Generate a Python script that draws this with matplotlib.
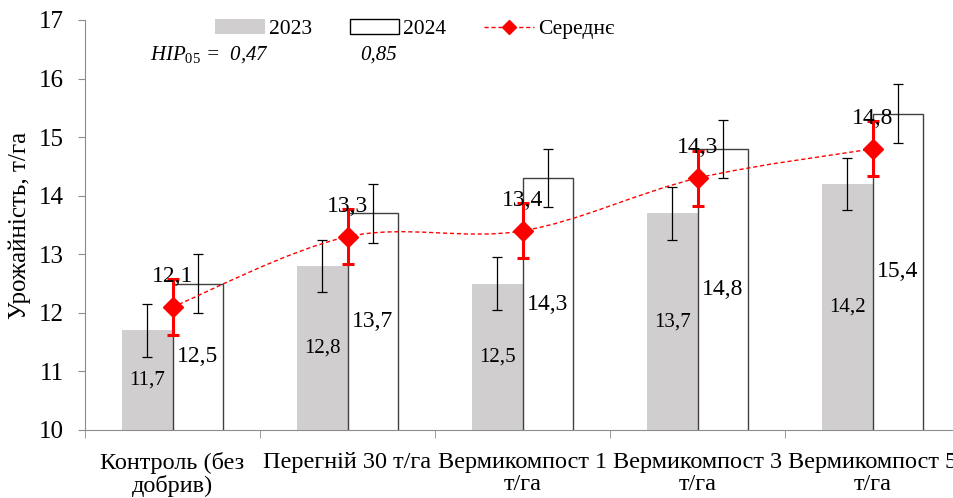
import matplotlib
matplotlib.use('Agg')
import matplotlib.pyplot as plt
import numpy as np
from matplotlib.path import Path
from matplotlib.patches import PathPatch, Patch
from matplotlib.lines import Line2D

plt.rcParams['font.family'] = 'Liberation Serif'
plt.rcParams['mathtext.fontset'] = 'custom'
plt.rcParams['mathtext.rm'] = 'Liberation Serif'
plt.rcParams['mathtext.it'] = 'Liberation Serif:italic'

categories = ['Контроль (без\nдобрив)', 'Перегній 30 т/га', 'Вермикомпост 1\nт/га',
              'Вермикомпост 3\nт/га', 'Вермикомпост 5\nт/га']
y2023 = [11.7, 12.8, 12.5, 13.7, 14.2]
y2024 = [12.5, 13.7, 14.3, 14.8, 15.4]
mean = [12.1, 13.3, 13.4, 14.3, 14.8]
err2023 = 0.45
err2024 = 0.5
err_mean = 0.47
hip = ['0,47', '0,85']

def fmt(v):
    return f'{v:.1f}'.replace('.', ',')

fig = plt.figure(figsize=(9.54, 4.98), dpi=100)
ax = fig.add_axes([85/954, 68/498, 875/954, 410/498])

x = np.arange(len(categories))
w = 0.286
gray = '#D0CECE'
axis_col = '#8C8C8C'

ax.bar(x - w/2, y2023, w, color=gray, edgecolor='none', zorder=2)
ax.bar(x + w/2, y2024, w, color='white', edgecolor='#404040', linewidth=1.0, zorder=2)
ax.errorbar(x - w/2, y2023, yerr=err2023, fmt='none', ecolor='black', elinewidth=0.9,
            capsize=3.6, capthick=0.9, zorder=3)
ax.errorbar(x + w/2, y2024, yerr=err2024, fmt='none', ecolor='black', elinewidth=0.9,
            capsize=3.6, capthick=0.9, zorder=3)

# smoothed mean line (bezier through the points)
pts = np.column_stack([x, mean]).astype(float)
ext = np.vstack([pts[0], pts, pts[-1]])
verts = [tuple(pts[0])]
codes = [Path.MOVETO]
for i in range(len(pts) - 1):
    p0, p1, p2, p3 = ext[i], ext[i+1], ext[i+2], ext[i+3]
    c1 = p1 + (p2 - p0) / 6
    c2 = p2 - (p3 - p1) / 6
    verts += [tuple(c1), tuple(c2), tuple(p2)]
    codes += [Path.CURVE4] * 3
ax.add_patch(PathPatch(Path(verts, codes), facecolor='none', edgecolor='red',
                       linestyle=(0, (3, 2)), linewidth=1.0, zorder=4))
ax.errorbar(x, mean, yerr=err_mean, fmt='D', color='red', markersize=10, elinewidth=2.2,
            capsize=4, capthick=2.2, zorder=5)

for i in range(len(x)):
    ax.text(x[i] - w/2, (10 + y2023[i]) / 2, fmt(y2023[i]), ha='center', va='center', fontsize=15, zorder=6)
    ax.text(x[i] + w/2, (10 + y2024[i]) / 2, fmt(y2024[i]), ha='center', va='center', fontsize=17, zorder=6)
    ax.annotate(fmt(mean[i]), (x[i], mean[i]), xytext=(0, 22), textcoords='offset points',
                ha='center', va='center', fontsize=17, zorder=6)

ax.set_xlim(-0.5, len(x) - 0.5)
ax.set_ylim(10, 17)
ax.set_yticks(range(10, 18))
ax.set_xticks(x)
ax.set_xticklabels(categories, fontsize=17.5, linespacing=1.05)
ax.set_xticks(np.arange(-0.5, len(x)), minor=True)
ax.tick_params(axis='x', which='major', length=0, pad=16)
ax.tick_params(axis='x', which='minor', length=6, color=axis_col)
ax.tick_params(axis='y', labelsize=18, length=5, color=axis_col, pad=10)
for s in ['top', 'right']:
    ax.spines[s].set_visible(False)
for s in ['left', 'bottom']:
    ax.spines[s].set_color(axis_col)
ax.set_ylabel('Урожайність, т/га', fontsize=18, labelpad=6)

handles = [Patch(facecolor=gray, edgecolor='none'),
           Patch(facecolor='white', edgecolor='black', linewidth=1),
           Line2D([], [], color='red', linestyle=(0, (3, 2)), linewidth=1, marker='D', markersize=7)]
fig.legend(handles, ['2023', '2024', 'Середнє'], loc='upper left', bbox_to_anchor=(215/954, 1 - 19/498),
           ncol=3, frameon=False, fontsize=15.5, handlelength=2.3, handleheight=0.7,
           handletextpad=0.2, columnspacing=1.75, borderpad=0, borderaxespad=0)

fig.text(150/954, 1 - 55/498, r'$HIP_{05}$ =  ' + hip[0], fontsize=15, style='italic', va='center')
fig.text(360/954, 1 - 55/498, hip[1], fontsize=15, style='italic', va='center')

fig.savefig('out.png', dpi=100)
